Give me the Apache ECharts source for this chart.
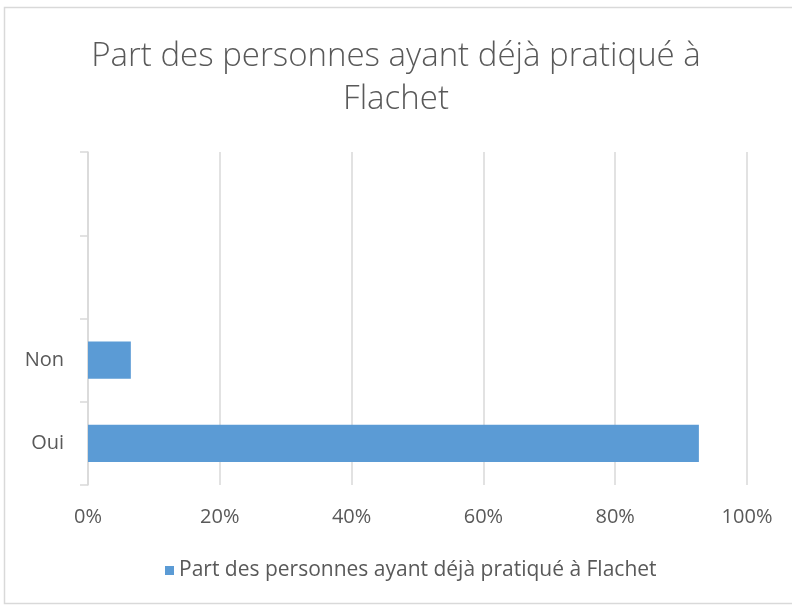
<!DOCTYPE html>
<html>
<head>
	<meta charset="UTF-8">
	<title></title>
	<script type="text/javascript" src="https://cdn.jsdelivr.net/npm/echarts@6/dist/echarts.min.js"></script>
	<style>
		html,body{margin:0;padding:0;background:#fff;}
		#chart{width:792px;height:605px;}
	</style>
</head>
<body>
<div id="chart"></div>
<script>
	// données
	var categories = ['Oui', 'Non', '', ''];
	var values = [0.927, 0.065, null, null];
	var xTicks = [0, 0.2, 0.4, 0.6, 0.8, 1];
	var seriesName = 'Part des personnes ayant déjà pratiqué à Flachet';

	var myChart = echarts.init(document.getElementById('chart'));
	var option = {
		backgroundColor: '#fff',
		title: {
			text: 'Part des personnes ayant déjà pratiqué à\nFlachet',
			left: 'center',
			top: 30,
			textStyle: {
				fontFamily: 'Open Sans',
				fontWeight: 300,
				fontSize: 33,
				lineHeight: 43,
				color: '#595959'
			}
		},
		legend: {
			bottom: 19,
			left: 160,
			icon: 'rect',
			itemWidth: 9,
			itemHeight: 9,
			itemGap: 6,
			textStyle: {fontFamily: 'Open Sans', fontSize: 21, color: '#595959'},
			data: [seriesName]
		},
		grid: {left: 88, right: 45, top: 152, bottom: 120},
		xAxis: {
			type: 'value',
			min: 0,
			max: 1,
			interval: 0.2,
			axisLine: {show: false},
			axisTick: {show: false},
			splitLine: {lineStyle: {color: '#d9d9d9', width: 1.5}},
			axisLabel: {
				margin: 22,
				fontFamily: 'Open Sans',
				fontSize: 20,
				color: '#595959',
				formatter: function (v) { return Math.round(v * 100) + '%'; }
			}
		},
		yAxis: {
			type: 'category',
			data: categories,
			axisLine: {lineStyle: {color: '#d9d9d9', width: 1.5}},
			axisTick: {show: true, length: 8, lineStyle: {color: '#d9d9d9', width: 1.5}},
			axisLabel: {margin: 24, fontFamily: 'Open Sans', fontSize: 20, color: '#595959'}
		},
		series: [{
			name: seriesName,
			type: 'bar',
			data: values,
			barCategoryGap: '55%',
			itemStyle: {color: '#5b9bd5'}
		}],
		graphic: [{
			type: 'rect',
			shape: {x: 4.5, y: 7.5, width: 800, height: 596},
			style: {fill: 'none', stroke: '#d9d9d9', lineWidth: 1.5},
			silent: true
		}]
	};
	myChart.setOption(option);
</script>
</body>
</html>
